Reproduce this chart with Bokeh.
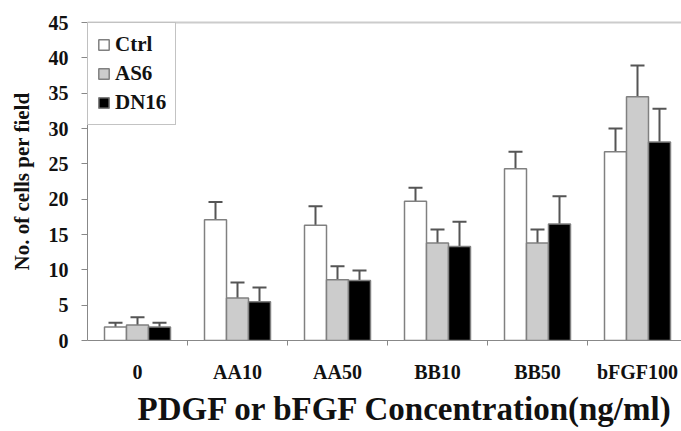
from bokeh.plotting import figure
from bokeh.models import (ColumnDataSource, Range1d, FixedTicker, LinearAxis, Legend, LegendItem, Title)
from bokeh.embed import file_html
from bokeh.resources import INLINE

categories = ["0", "AA10", "AA50", "BB10", "BB50", "bFGF100"]
series = ["Ctrl", "AS6", "DN16"]
ctrl = [1.9, 17.1, 16.3, 19.7, 24.3, 26.7]
ctrl_err = [0.6, 2.5, 2.7, 1.9, 2.4, 3.3]
as6 = [2.2, 6.0, 8.6, 13.8, 13.8, 34.5]
as6_err = [1.1, 2.2, 1.9, 1.9, 1.9, 4.4]
dn16 = [1.9, 5.5, 8.5, 13.3, 16.5, 28.1]
dn16_err = [0.6, 2.0, 1.4, 3.5, 3.9, 4.7]
y_ticks = [0, 5, 10, 15, 20, 25, 30, 35, 40, 45]

fills = ["#ffffff", "#cccccc", "#000000"]
offsets = [-0.22, 0.0, 0.22]
bar_w = 0.22
serif = "Liberation Serif"

W, H = 681, 431
p = figure(width=W, height=H, output_backend="svg", toolbar_location=None,
           x_range=Range1d(0, (W - 87) / 100.0), y_range=Range1d(0, 45),
           min_border_left=87, min_border_right=0, min_border_top=22, min_border_bottom=H - 340)
p.xgrid.visible = False
p.ygrid.visible = False
p.outline_line_color = None
p.background_fill_color = "#ffffff"
p.xaxis.visible = False
p.yaxis.visible = False

renderers = []
for vals, errs, fc, off in zip([ctrl, as6, dn16], [ctrl_err, as6_err, dn16_err], fills, offsets):
    xs = [i + 0.5 + off for i in range(len(categories))]
    tops = [v + e for v, e in zip(vals, errs)]
    src = ColumnDataSource(dict(x=xs, top=vals, etop=tops,
                                cl=[x - 0.07 for x in xs], cr=[x + 0.07 for x in xs]))
    p.segment(x0="x", y0="top", x1="x", y1="etop", source=src, line_color="#555555", line_width=2)
    p.segment(x0="cl", y0="etop", x1="cr", y1="etop", source=src, line_color="#555555", line_width=2)
    r = p.vbar(x="x", top="top", width=bar_w, bottom=0, source=src, fill_color=fc,
               line_color="#808080", line_width=1.5)
    renderers.append(r)

# y axis
yax = LinearAxis(ticker=FixedTicker(ticks=y_ticks), axis_label="No. of cells per field")
yax.axis_line_color = "#888888"
yax.major_tick_line_color = "#888888"
yax.major_tick_in = 0
yax.major_tick_out = 6
yax.minor_tick_line_color = None
yax.major_label_text_font = serif
yax.major_label_text_font_style = "bold"
yax.major_label_text_font_size = "20px"
yax.major_label_text_color = "#111111"
yax.major_label_standoff = 13
yax.axis_label_text_font = serif
yax.axis_label_text_font_style = "bold"
yax.axis_label_text_font_size = "21px"
yax.axis_label_text_color = "#111111"
yax.axis_label_standoff = 12
p.add_layout(yax, "left")

# x axis
xax = LinearAxis(ticker=FixedTicker(ticks=[i + 0.5 for i in range(len(categories))],
                                    minor_ticks=[1, 2, 3, 4, 5]))
xax.major_label_overrides = {i + 0.5: c for i, c in enumerate(categories)}
xax.axis_line_color = "#888888"
xax.major_tick_line_color = None
xax.major_tick_in = 0
xax.major_tick_out = 0
xax.minor_tick_line_color = "#888888"
xax.minor_tick_in = 0
xax.minor_tick_out = 5
xax.major_label_text_font = serif
xax.major_label_text_font_style = "bold"
xax.major_label_text_font_size = "20px"
xax.major_label_text_color = "#111111"
xax.major_label_standoff = 15
p.add_layout(xax, "below")

# top line
tax = LinearAxis(ticker=FixedTicker(ticks=[]))
tax.axis_line_color = "#cccccc"
tax.axis_line_width = 2
tax.major_tick_line_color = None
tax.minor_tick_line_color = None
tax.major_label_text_font_size = "0px"
p.add_layout(tax, "above")

title = Title(text="PDGF or bFGF Concentration(ng/ml)", align="left", offset=50,
              text_font=serif, text_font_style="bold", text_font_size="33px",
              text_color="#111111", standoff=6)
p.add_layout(title, "below")

legend = Legend(items=[LegendItem(label=s, renderers=[r]) for s, r in zip(series, renderers)],
                location="top_left")
legend.label_text_font = serif
legend.label_text_font_style = "bold"
legend.label_text_font_size = "21px"
legend.label_text_color = "#111111"
legend.glyph_width = 13
legend.glyph_height = 13
legend.spacing = 4
legend.padding = 9
legend.margin = 0
legend.border_line_color = "#888888"
legend.border_line_width = 1.5
legend.background_fill_color = "#ffffff"
p.add_layout(legend)

open("out.html", "w").write(file_html(p, INLINE))
